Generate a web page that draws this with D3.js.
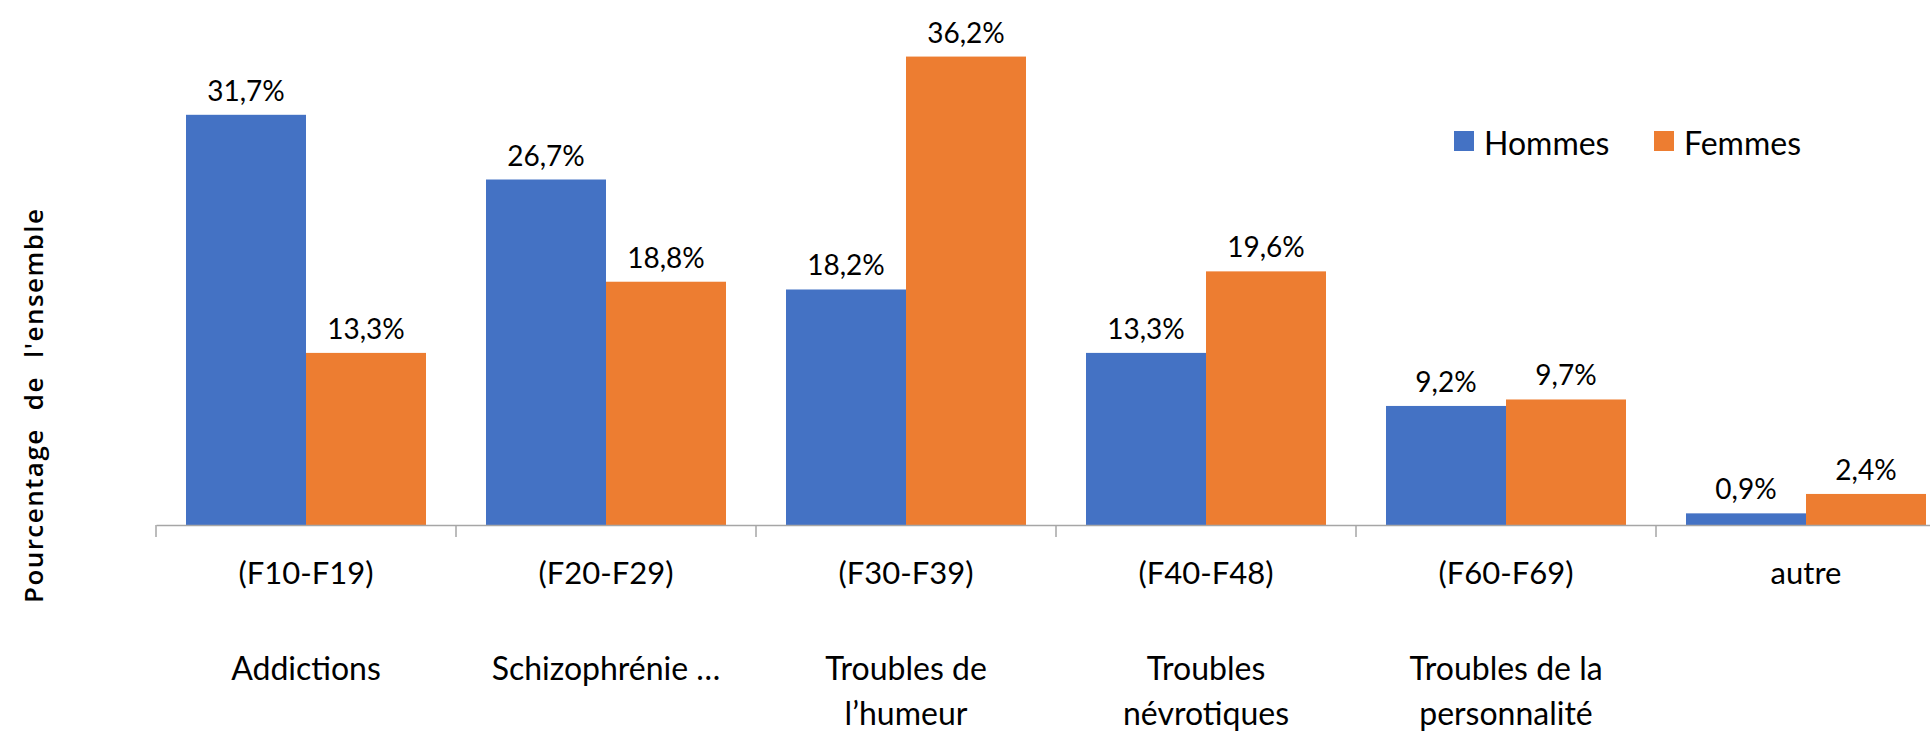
<!DOCTYPE html>
<html>
<head>
<meta charset="utf-8">
<script src="https://cdn.jsdelivr.net/npm/d3@7"></script>
<style>
  body { margin: 0; background: #fff; }
  svg { display: block; font-family: Lato, "Open Sans", sans-serif; }
</style>
</head>
<body>
<div id="chart"></div>
<script>
const codes = ["(F10-F19)", "(F20-F29)", "(F30-F39)", "(F40-F48)", "(F60-F69)", "autre"];
const names = [["Addictions"], ["Schizophrénie …"], ["Troubles de", "l’humeur"],
               ["Troubles", "névrotiques"], ["Troubles de la", "personnalité"], []];
const series = ["Hommes", "Femmes"];
const hommes = [31.7, 26.7, 18.2, 13.3, 9.2, 0.9];
const femmes = [13.3, 18.8, 36.2, 19.6, 9.7, 2.4];
const colors = ["#4472C4", "#ED7D31"];

let dim = {width: 1930, height: 731};

let svg = d3.select('#chart').append('svg')
    .attr('width', dim.width)
    .attr('height', dim.height);

let rows = codes.map((c, i) => ({code: c, values: [hommes[i], femmes[i]]}));

// the last group runs past the right edge, like in the original
let x0 = d3.scaleBand()
    .domain(codes)
    .range([156, 1956])
    .padding(0);

let x1 = d3.scaleBand()
    .domain(series)
    .range([0, x0.bandwidth()])
    .paddingOuter(0.25);

let y = d3.scaleLinear()
    .domain([0, 40])
    .range([525, 7.4]);

let color = d3.scaleOrdinal().domain(series).range(colors);

let fmt = v => d3.format(".1f")(v).replace(".", ",") + "%";

// bars
let groups = svg.selectAll('g.cat')
    .data(rows)
    .enter()
    .append('g')
    .attr('class', 'cat')
    .attr('transform', d => `translate(${x0(d.code)},0)`);

groups.selectAll('rect')
    .data(d => d.values.map((v, j) => ({s: series[j], v: v})))
    .enter()
    .append('rect')
    .attr('x', d => x1(d.s))
    .attr('y', d => y(d.v))
    .attr('width', x1.bandwidth())
    .attr('height', d => y(0) - y(d.v))
    .attr('fill', d => color(d.s));

groups.selectAll('text.val')
    .data(d => d.values.map((v, j) => ({s: series[j], v: v})))
    .enter()
    .append('text')
    .attr('class', 'val')
    .attr('x', d => x1(d.s) + x1.bandwidth() / 2)
    .attr('y', d => y(d.v) - 14)
    .attr('text-anchor', 'middle')
    .attr('font-size', 28)
    .attr('fill', '#000')
    .text(d => fmt(d.v));

// axis line plus ticks on the group boundaries
let axis = d3.axisBottom(x0).tickSize(0).tickFormat('');
let gx = svg.append('g')
    .attr('transform', `translate(0,${y(0)})`)
    .call(axis);
gx.select('.domain').attr('stroke', '#a6a6a6').attr('stroke-width', 1.5);

gx.selectAll('line.sep')
    .data(codes)
    .enter()
    .append('line')
    .attr('class', 'sep')
    .attr('x1', d => x0(d)).attr('x2', d => x0(d))
    .attr('y1', 0).attr('y2', 12)
    .attr('stroke', '#a6a6a6')
    .attr('stroke-width', 1.5);

// category labels
let labels = svg.append('g')
    .selectAll('g')
    .data(codes)
    .enter()
    .append('g')
    .attr('transform', d => `translate(${x0(d) + x0.bandwidth() / 2},0)`);

labels.append('text')
    .attr('y', 584)
    .attr('text-anchor', 'middle')
    .attr('font-size', 31)
    .text(d => d);

labels.append('text')
    .attr('text-anchor', 'middle')
    .attr('font-size', 32)
    .selectAll('tspan')
    .data((d, i) => names[i])
    .enter()
    .append('tspan')
    .attr('x', 0)
    .attr('y', (d, k) => 680 + k * 45)
    .text(d => d);

// legend
let leg = svg.append('g')
    .selectAll('g')
    .data(series)
    .enter()
    .append('g')
    .attr('transform', (d, i) => `translate(${1454 + i * 200},131)`);

leg.append('rect')
    .attr('width', 20).attr('height', 20)
    .attr('fill', d => color(d));

leg.append('text')
    .attr('x', 30).attr('y', 24)
    .attr('font-size', 32)
    .text(d => d);

// y title
svg.append('text')
    .attr('transform', 'translate(43,406) rotate(-90)')
    .attr('text-anchor', 'middle')
    .attr('font-family', '"Open Sans", sans-serif')
    .attr('font-weight', 600)
    .attr('font-size', 26)
    .attr('word-spacing', 10)
    .attr('textLength', 394)
    .attr('lengthAdjust', 'spacing')
    .text("Pourcentage de l'ensemble");
</script>
</body>
</html>
